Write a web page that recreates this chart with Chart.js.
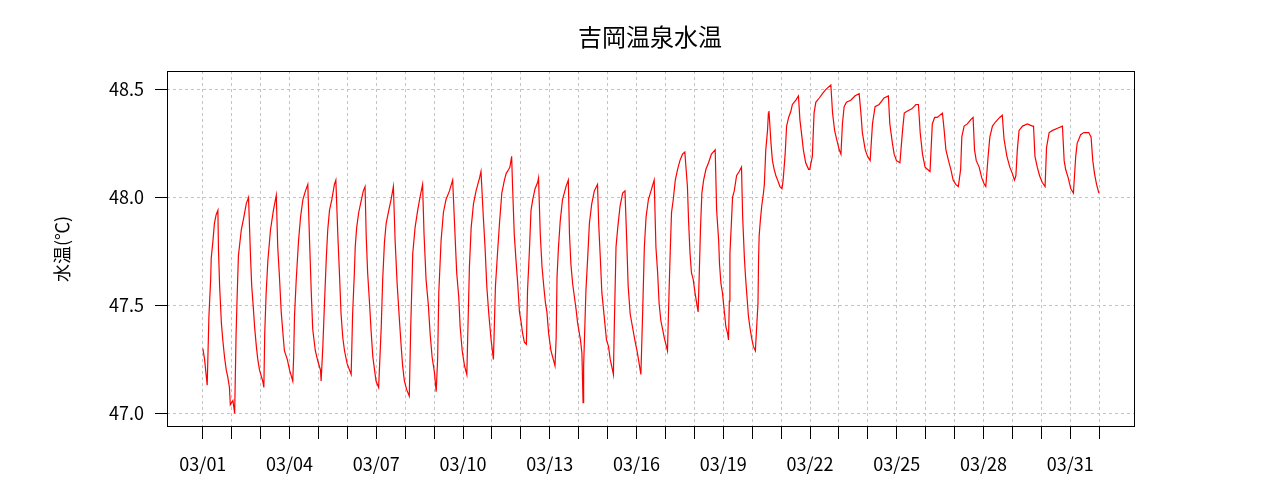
<!DOCTYPE html>
<html lang="ja">
<head>
<meta charset="utf-8">
<title>吉岡温泉水温</title>
<script src="https://cdn.jsdelivr.net/npm/chart.js@4/dist/chart.umd.min.js"></script>
<style>
    html, body { margin: 0; padding: 0; background: #fff; }
    #wrap { width: 1280px; height: 500px; position: relative; }
</style>
</head>
<body>
<div id="wrap"><canvas id="tempChart"></canvas></div>
<script>
/* Readings: days since 03/01 00:00 and water temperature (°C) */
const readingDays = [
    0.00, 0.06, 0.15, 0.21, 0.27, 0.29, 0.35, 0.40, 0.46, 0.52, 0.54, 0.58, 0.64, 0.69, 0.75, 0.81, 0.86, 0.92, 0.95, 1.04,
    1.10, 1.15, 1.19, 1.23, 1.33, 1.42, 1.50, 1.58, 1.65, 1.69, 1.74, 1.79, 1.85, 1.90, 1.96, 2.07,
    2.11, 2.14, 2.19, 2.25, 2.34, 2.44, 2.54, 2.59, 2.65, 2.71, 2.77, 2.82, 2.92, 3.00,
    3.11, 3.14, 3.17, 3.23, 3.31, 3.38, 3.46, 3.55, 3.63, 3.69, 3.75, 3.80, 3.89, 3.98,
    4.07, 4.09, 4.15, 4.21, 4.27, 4.32, 4.38, 4.46, 4.55, 4.60, 4.67, 4.73, 4.78, 4.84, 4.90, 4.99,
    5.13, 5.18, 5.24, 5.27, 5.32, 5.39, 5.47, 5.55, 5.61, 5.65, 5.70, 5.76, 5.82, 5.88, 5.94, 5.99,
    6.08, 6.17, 6.22, 6.28, 6.34, 6.43, 6.51, 6.59, 6.65, 6.72, 6.80, 6.86, 6.91, 6.97,
    7.05, 7.14, 7.19, 7.26, 7.34, 7.43, 7.51, 7.60, 7.65, 7.72, 7.80, 7.86, 7.93,
    8.01, 8.07, 8.12, 8.16, 8.24, 8.32, 8.41, 8.53, 8.64, 8.74, 8.78, 8.85, 8.90, 8.97,
    9.05, 9.13, 9.16, 9.22, 9.28, 9.36, 9.45, 9.57, 9.62, 9.70, 9.76, 9.82, 9.89, 9.97,
    10.05, 10.12, 10.20, 10.26, 10.34, 10.43, 10.49, 10.58, 10.62, 10.68, 10.71, 10.77, 10.83, 10.89, 10.95,
    11.01, 11.06, 11.12, 11.19, 11.23, 11.29, 11.35, 11.41, 11.49, 11.58, 11.61, 11.67, 11.73, 11.79, 11.85, 11.90, 11.96,
    12.04, 12.12, 12.18, 12.22, 12.25, 12.30, 12.36, 12.44, 12.56, 12.64, 12.68, 12.73, 12.79, 12.85, 12.91, 12.96,
    13.06, 13.11, 13.15, 13.17, 13.25, 13.31, 13.37, 13.45, 13.54, 13.65, 13.69, 13.75, 13.80, 13.88, 13.96,
    14.03, 14.09, 14.17, 14.20, 14.23, 14.29, 14.35, 14.43, 14.52, 14.60, 14.66, 14.71, 14.78, 14.86, 14.94,
    15.03, 15.09, 15.15, 15.21, 15.27, 15.33, 15.41, 15.50, 15.61, 15.67, 15.73, 15.78, 15.84, 15.93, 15.96,
    16.07, 16.13, 16.17, 16.21, 16.27, 16.34, 16.42, 16.50, 16.59, 16.67, 16.76, 16.80, 16.85, 16.90, 16.96,
    17.02, 17.08, 17.13, 17.17, 17.21, 17.26, 17.32, 17.40, 17.49, 17.59, 17.72, 17.77, 17.84, 17.87, 17.92, 17.97,
    18.03, 18.09, 18.15, 18.18, 18.21, 18.23, 18.28, 18.32, 18.38, 18.46, 18.55, 18.63, 18.67, 18.73, 18.77, 18.82, 18.87, 18.92, 18.98,
    19.04, 19.11, 19.20, 19.22, 19.24, 19.28, 19.33, 19.39, 19.42, 19.47, 19.53, 19.56, 19.58, 19.65, 19.70, 19.76, 19.82, 19.88, 19.96,
    20.03, 20.07, 20.14, 20.19, 20.26, 20.34, 20.39, 20.51, 20.60, 20.65, 20.72, 20.77, 20.85, 20.95, 20.99,
    21.08, 21.14, 21.20, 21.32, 21.43, 21.55, 21.72, 21.78, 21.85, 21.92,
    22.01, 22.07, 22.12, 22.18, 22.26, 22.41, 22.56, 22.70, 22.76, 22.81, 22.91, 22.99,
    23.08, 23.16, 23.25, 23.39, 23.56, 23.71, 23.76, 23.85, 23.91, 23.99,
    24.11, 24.20, 24.26, 24.37, 24.52, 24.66, 24.75, 24.81, 24.89, 24.98,
    25.06, 25.15, 25.23, 25.31, 25.40, 25.58, 25.64, 25.70, 25.79, 25.87, 25.95,
    26.04, 26.13, 26.21, 26.25, 26.33, 26.44, 26.56, 26.64, 26.69, 26.75, 26.85, 26.94,
    27.03, 27.08, 27.16, 27.22, 27.31, 27.42, 27.56, 27.65, 27.71, 27.81, 27.91,
    28.00, 28.07, 28.12, 28.17, 28.23, 28.35, 28.52, 28.69, 28.73, 28.78, 28.86, 28.94,
    29.03, 29.13, 29.18, 29.27, 29.39, 29.56, 29.73, 29.79, 29.84, 29.93,
    30.02, 30.11, 30.19, 30.24, 30.36, 30.47, 30.64, 30.72, 30.78, 30.84, 30.91, 30.99,
];
const waterTemps = [
    47.30, 47.25, 47.13, 47.45, 47.62, 47.72, 47.80, 47.88, 47.92, 47.94, 47.76, 47.59, 47.42, 47.34, 47.26, 47.20, 47.17, 47.12, 47.04, 47.06,
    47.00, 47.37, 47.56, 47.73, 47.85, 47.91, 47.97, 48.00, 47.72, 47.59, 47.50, 47.40, 47.31, 47.25, 47.20, 47.15,
    47.12, 47.37, 47.56, 47.71, 47.85, 47.94, 48.01, 47.77, 47.63, 47.47, 47.37, 47.29, 47.25, 47.20,
    47.15, 47.26, 47.45, 47.62, 47.80, 47.91, 47.99, 48.03, 48.06, 47.80, 47.56, 47.39, 47.29, 47.24,
    47.20, 47.15, 47.31, 47.52, 47.72, 47.85, 47.94, 47.99, 48.06, 48.08, 47.82, 47.63, 47.46, 47.35, 47.29, 47.23,
    47.18, 47.46, 47.65, 47.77, 47.86, 47.93, 47.98, 48.03, 48.05, 47.82, 47.65, 47.52, 47.38, 47.26, 47.20, 47.15,
    47.12, 47.40, 47.62, 47.79, 47.88, 47.94, 47.99, 48.05, 47.80, 47.60, 47.43, 47.31, 47.22, 47.15,
    47.11, 47.08, 47.40, 47.74, 47.86, 47.94, 48.00, 48.06, 47.83, 47.62, 47.50, 47.37, 47.26,
    47.19, 47.10, 47.25, 47.56, 47.80, 47.93, 47.99, 48.03, 48.08, 47.77, 47.65, 47.54, 47.40, 47.29,
    47.22, 47.18, 47.35, 47.68, 47.86, 47.97, 48.03, 48.09, 48.12, 47.91, 47.77, 47.59, 47.46, 47.34,
    47.25, 47.59, 47.76, 47.88, 48.02, 48.08, 48.11, 48.13, 48.14, 48.19, 48.06, 47.83, 47.71, 47.60, 47.47,
    47.42, 47.37, 47.33, 47.32, 47.57, 47.74, 47.94, 47.99, 48.04, 48.07, 48.09, 47.83, 47.68, 47.59, 47.51, 47.47, 47.37,
    47.29, 47.25, 47.22, 47.35, 47.63, 47.77, 47.89, 47.99, 48.05, 48.08, 47.83, 47.69, 47.60, 47.54, 47.48, 47.42,
    47.34, 47.28, 47.05, 47.22, 47.57, 47.72, 47.88, 47.97, 48.03, 48.06, 47.88, 47.71, 47.56, 47.45, 47.34,
    47.31, 47.25, 47.20, 47.18, 47.40, 47.77, 47.86, 47.96, 48.02, 48.03, 47.80, 47.59, 47.46, 47.40, 47.34,
    47.28, 47.23, 47.18, 47.46, 47.77, 47.91, 47.99, 48.03, 48.08, 47.77, 47.65, 47.51, 47.43, 47.37, 47.35,
    47.29, 47.59, 47.77, 47.93, 47.99, 48.08, 48.13, 48.17, 48.20, 48.21, 48.05, 47.89, 47.74, 47.65, 47.62,
    47.56, 47.51, 47.47, 47.65, 47.85, 48.02, 48.08, 48.13, 48.16, 48.20, 48.22, 47.94, 47.80, 47.69, 47.60, 47.56,
    47.48, 47.40, 47.37, 47.34, 47.52, 47.74, 47.88, 48.00, 48.03, 48.10, 48.12, 48.14, 47.91, 47.72, 47.63, 47.54, 47.45, 47.40, 47.35,
    47.31, 47.29, 47.51, 47.71, 47.82, 47.89, 47.96, 48.02, 48.06, 48.22, 48.31, 48.39, 48.40, 48.25, 48.17, 48.13, 48.10, 48.08, 48.05,
    48.04, 48.08, 48.20, 48.33, 48.37, 48.40, 48.43, 48.45, 48.47, 48.36, 48.28, 48.22, 48.16, 48.13, 48.13,
    48.19, 48.39, 48.44, 48.46, 48.48, 48.50, 48.52, 48.39, 48.31, 48.27,
    48.22, 48.20, 48.34, 48.42, 48.44, 48.45, 48.47, 48.48, 48.39, 48.30, 48.22, 48.19,
    48.17, 48.34, 48.42, 48.43, 48.46, 48.47, 48.34, 48.25, 48.20, 48.17,
    48.16, 48.31, 48.39, 48.40, 48.41, 48.43, 48.43, 48.30, 48.20, 48.14,
    48.13, 48.12, 48.34, 48.37, 48.37, 48.39, 48.31, 48.22, 48.17, 48.13, 48.08,
    48.06, 48.05, 48.13, 48.28, 48.33, 48.34, 48.36, 48.37, 48.22, 48.17, 48.14, 48.09,
    48.06, 48.05, 48.19, 48.28, 48.33, 48.35, 48.37, 48.38, 48.27, 48.19, 48.14,
    48.11, 48.08, 48.10, 48.22, 48.31, 48.33, 48.34, 48.33, 48.33, 48.19, 48.14, 48.10,
    48.07, 48.05, 48.23, 48.30, 48.31, 48.32, 48.33, 48.17, 48.13, 48.09,
    48.04, 48.02, 48.19, 48.25, 48.29, 48.30, 48.30, 48.28, 48.17, 48.11, 48.06, 48.02,
];

/* Axis ticks: one per day, labelled every third day */
const dayTicks = [
    0, 1, 2, 3, 4, 5, 6, 7, 8, 9, 10, 11, 12, 13, 14, 15,
    16, 17, 18, 19, 20, 21, 22, 23, 24, 25, 26, 27, 28, 29, 30, 31,
];
const dayTickLabels = {
    0: "03/01", 3: "03/04", 6: "03/07", 9: "03/10", 12: "03/13", 15: "03/16",
    18: "03/19", 21: "03/22", 24: "03/25", 27: "03/28", 30: "03/31",
};
const tempTicks = [47.0, 47.5, 48.0, 48.5];

const COLORS = {
    line: "#ff0000",
    grid: "#c4c4c4",
    axis: "#000000",
    text: "#000000",
};
const FONT = "'Noto Sans CJK JP', 'Noto Sans', sans-serif";

/* Black frame round the plot area (all four sides) */
const frameBox = {
    id: "frameBox",
    afterDraw(chart) {
        const { ctx, chartArea: a } = chart;
        ctx.save();
        ctx.strokeStyle = COLORS.axis;
        ctx.lineWidth = 1;
        ctx.strokeRect(Math.round(a.left) + 0.5, Math.round(a.top) + 0.5,
            Math.round(a.right - a.left) - 1, Math.round(a.bottom - a.top) - 1);
        ctx.restore();
    },
};

function renderWaterTemp(canvasId) {
    const canvas = document.getElementById(canvasId);
    if (!canvas) return;

    const points = readingDays.map((d, i) => ({ x: d, y: waterTemps[i] }));

    new Chart(canvas, {
        type: "line",
        data: {
            datasets: [{
                data: points,
                borderColor: COLORS.line,
                borderWidth: 1.2,
                pointRadius: 0,
                tension: 0,
                fill: false,
            }],
        },
        options: {
            responsive: true,
            maintainAspectRatio: false,
            animation: false,
            layout: { padding: { left: 20, right: 0, top: 0, bottom: 0 } },
            plugins: {
                legend: { display: false },
                tooltip: { enabled: false },
                title: {
                    display: true,
                    text: "吉岡温泉水温",
                    color: COLORS.text,
                    font: { family: FONT, size: 24, weight: "normal" },
                    padding: { top: 22, bottom: 20.2 },
                },
            },
            scales: {
                x: {
                    type: "linear",
                    min: -1.24,
                    max: 32.24,
                    afterBuildTicks: scale => { scale.ticks = dayTicks.map(v => ({ value: v })); },
                    afterFit: scale => { scale.height = 73; },
                    ticks: {
                        color: COLORS.text,
                        font: { family: FONT, size: 18 },
                        padding: 14,
                        maxRotation: 0,
                        autoSkip: false,
                        callback: v => dayTickLabels[v] || "",
                    },
                    grid: {
                        color: COLORS.grid,
                        lineWidth: 1,
                        tickColor: COLORS.axis,
                        tickLength: 12,
                        tickBorderDash: [],
                    },
                    border: { display: false, dash: [3, 3] },
                },
                y: {
                    min: 46.937,
                    max: 48.585,
                    afterBuildTicks: scale => { scale.ticks = tempTicks.map(v => ({ value: v })); },
                    afterFit: scale => { scale.width = 147; },
                    ticks: {
                        color: COLORS.text,
                        font: { family: FONT, size: 18 },
                        padding: 11,
                        callback: v => v.toFixed(1),
                    },
                    grid: {
                        color: COLORS.grid,
                        lineWidth: 1,
                        tickColor: COLORS.axis,
                        tickLength: 12,
                        tickBorderDash: [],
                    },
                    border: { display: false, dash: [3, 3] },
                    title: {
                        display: true,
                        text: "水温(℃)",
                        color: COLORS.text,
                        font: { family: FONT, size: 18 },
                        padding: { top: 31, bottom: 0 },
                    },
                },
                /* empty right margin so the title centres like the reference */
                yRight: {
                    position: "right",
                    display: true,
                    afterFit: scale => { scale.width = 145; },
                    ticks: { display: false },
                    grid: { display: false },
                    border: { display: false },
                },
            },
        },
        plugins: [frameBox],
    });
}

document.addEventListener("DOMContentLoaded", () => {
    renderWaterTemp("tempChart");
});
</script>
</body>
</html>
